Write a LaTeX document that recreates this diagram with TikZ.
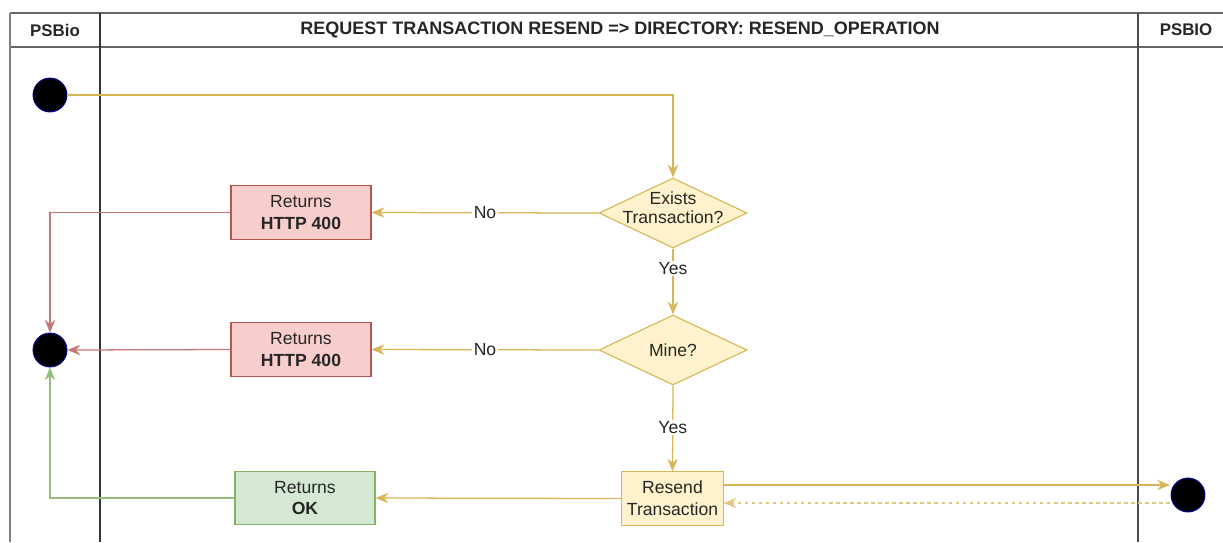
\documentclass[tikz,border=0pt]{standalone}
\usepackage{fontspec}
\setmainfont{Liberation Sans}
\usetikzlibrary{arrows.meta,shapes.geometric}
\definecolor{yelfill}{HTML}{FFF2CC}
\definecolor{yelline}{HTML}{D6B656}
\definecolor{redfill}{HTML}{F8CECC}
\definecolor{redline}{HTML}{B85450}
\definecolor{grnfill}{HTML}{D5E8D4}
\definecolor{grnline}{HTML}{82B366}
\tikzset{every node/.style={inner sep=0pt,text=black!85}}
\tikzset{box/.style={rectangle,draw,minimum height=1.33cm,align=center,line width=0.8pt}}
\tikzset{fail/.style={box,draw=redline,fill=redfill,minimum width=3.5cm}}
\tikzset{okbox/.style={box,draw=grnline,fill=grnfill,minimum width=3.5cm}}
\tikzset{action/.style={box,draw=yelline,fill=yelfill,minimum width=2.53cm}}
\tikzset{decision/.style={diamond,draw=yelline,fill=yelfill,line width=0.8pt,minimum width=3.7cm,minimum height=1.75cm}}
\tikzset{dot/.style={circle,fill=black,draw=blue!70!black,line width=0.6pt,minimum size=0.85cm}}
\tikzset{lbl/.style={fill=white,inner sep=1pt}}
\tikzset{lane/.style={font=\fontsize{12}{14}\selectfont\bfseries}}

\begin{document}
\begin{tikzpicture}[x=0.025cm,y=-0.025cm,>={Stealth[length=3.2mm,width=2.6mm]},
  font=\fontsize{12.5}{15.5}\selectfont,line width=0.9pt]
  \useasboundingbox (0,0) rectangle (1223,542);
  % swimlanes
  \draw[gray!80!black,line width=1.4pt] (10,13) -- (1223,13);
  \draw[gray!80!black,line width=1.4pt] (10,47) -- (1223,47);
  \draw[gray,line width=1.6pt] (10,13) -- (10,542);
  \draw[black!80,line width=1.6pt] (100,13) -- (100,542);
  \draw[black!70,line width=1.1pt] (1138,13) -- (1138,542);
  \node[lane] (lane1) at (55,30) {PSBio};
  \node[lane,font=\fontsize{12.8}{14}\selectfont\bfseries] (lane2) at (620,30) {REQUEST TRANSACTION RESEND => DIRECTORY: RESEND\_OPERATION};
  \node[lane] (lane3) at (1186,30) {PSBIO};

  \node[dot] (start) at (50,95) {};
  \node[dot] (e1) at (50,350) {};
  \node[dot] (e2) at (1188,495) {};

  \node[decision] (d1) at (673,213) {};
  \node[align=center,font=\fontsize{12.5}{13.5}\selectfont] (q1) at (673,208) {Exists\\Transaction?};
  \node[decision] (d2) at (673,350) {};
  \node (q2) at (d2) {Mine?};

  \node[fail] (r1) at (301,212.5) {Returns\\\textbf{HTTP 400}};
  \node[fail] (r2) at (301,349.5) {Returns\\\textbf{HTTP 400}};
  \node[okbox] (ok) at (305,498) {Returns\\\textbf{OK}};
  \node[action] (rs) at (672.5,498.5) {Resend\\Transaction};
  \coordinate (out) at (1170,485);
  \coordinate (back) at (1170,503);

  \draw[->,yelline] (start.east) -| (d1.north);
  \draw[->,yelline] (d1.west) -- node[lbl] {No} (r1.east);
  \draw[->,yelline] (d2.west) -- node[lbl] {No} (r2.east);
  \draw[->,yelline] (d1.south) -- node[lbl,pos=0.3] {Yes} (d2.north);
  \draw[->,yelline] (d2.south) -- node[lbl,pos=0.49] {Yes} (rs.north);
  \draw[->,yelline] (rs.west) -- (ok.east);
  \draw[->,yelline] (rs.east |- out) -- (out);
  \draw[->,yelline!75,line width=1.1pt,dash pattern=on 2.5pt off 2.5pt] (back) -- (rs.east |- back);
  \draw[->,redline!80] (r1.west) -| (e1.north);
  \draw[->,redline!80] (r2.west) -- (e1.east);
  \draw[->,grnline!85] (ok.west) -| (e1.south);
\end{tikzpicture}
\end{document}
